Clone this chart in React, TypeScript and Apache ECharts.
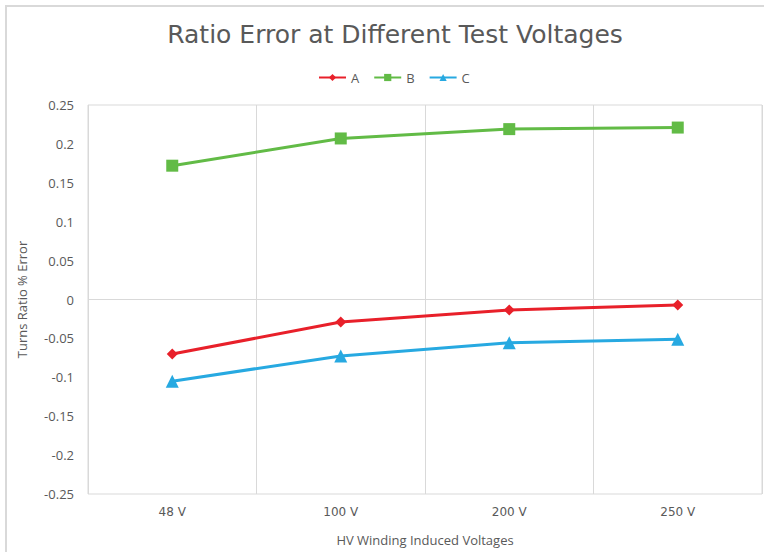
import React, { useEffect, useRef } from "react";
import * as echarts from "echarts";

const categories = ["48 V", "100 V", "200 V", "250 V"];
const seriesA = [-0.07, -0.029, -0.0135, -0.007];
const seriesB = [0.172, 0.207, 0.219, 0.221];
const seriesC = [-0.105, -0.0725, -0.0555, -0.051];
const yTicks = { min: -0.25, max: 0.25, interval: 0.05 };

const FONT = "'Open Sans', 'Noto Sans', sans-serif";
const WIDE = "'DejaVu Sans', 'Open Sans', sans-serif";
const TEXT = "#595959";
const GRID = "#d9d9d9";

export default function App() {
  const ref = useRef<HTMLDivElement>(null);
  useEffect(() => {
    if (!ref.current) return;
    const chart = echarts.init(ref.current, null, { renderer: "svg" });
    const lineSeries = (name: string, data: number[], color: string, symbol: string, size: number, extra: any = {}) => ({
      name,
      type: "line",
      data,
      symbol,
      symbolSize: size,
      showSymbol: true,
      lineStyle: { color, width: 3 },
      itemStyle: { color },
      z: 3,
      ...extra,
    });
    chart.setOption({
      animation: false,
      backgroundColor: "#ffffff",
      textStyle: { fontFamily: FONT },
      title: {
        text: "Ratio Error at Different Test Voltages",
        left: 390,
        textAlign: "center",
        top: 17,
        textStyle: { fontFamily: WIDE, fontSize: 25, fontWeight: "normal", color: TEXT },
      },
      legend: {
        top: 66,
        left: 313,
        itemWidth: 27,
        itemHeight: 9,
        itemGap: 14,
        textStyle: { fontFamily: FONT, fontSize: 13, color: TEXT },
        data: ["A", "B", "C"],
      },
      graphic: [
        {
          type: "rect",
          shape: { x: 6, y: 6, width: 800, height: 600 },
          style: { fill: "none", stroke: GRID, lineWidth: 2 },
          silent: true,
        },
      ],
      grid: {
        left: 88,
        right: 2,
        top: 105,
        bottom: 58,
        show: true,
        borderColor: GRID,
        borderWidth: 1,
      },
      xAxis: {
        type: "category",
        data: categories,
        boundaryGap: true,
        name: "HV Winding Induced Voltages",
        nameLocation: "middle",
        nameGap: 39,
        nameTextStyle: { fontFamily: FONT, fontSize: 13, color: TEXT },
        axisLine: { show: false },
        axisTick: { show: false },
        axisLabel: { fontFamily: WIDE, fontSize: 12, color: TEXT, margin: 12 },
        splitLine: { show: true, lineStyle: { color: GRID, width: 1 } },
      },
      yAxis: {
        type: "value",
        min: yTicks.min,
        max: yTicks.max,
        interval: yTicks.interval,
        name: "Turns Ratio % Error",
        nameLocation: "middle",
        nameGap: 60,
        nameTextStyle: { fontFamily: FONT, fontSize: 13, color: TEXT },
        axisLine: { show: false },
        axisTick: { show: false },
        axisLabel: {
          fontFamily: FONT,
          fontSize: 13,
          color: TEXT,
          margin: 14,
          formatter: (v: number) => String(Math.round(v * 100) / 100),
        },
        splitLine: { show: false },
      },
      series: [
        lineSeries("A", seriesA, "#e8202a", "diamond", 11, {
          markLine: {
            silent: true,
            symbol: "none",
            label: { show: false },
            lineStyle: { color: GRID, type: "solid", width: 1 },
            data: [{ yAxis: 0 }],
            z: 1,
          },
        }),
        lineSeries("B", seriesB, "#62bb46", "rect", 12),
        lineSeries("C", seriesC, "#27a9e1", "triangle", 13),
      ],
    });
    return () => chart.dispose();
  }, []);
  return (
    <div
      ref={ref}
      style={{ position: "absolute", left: 0, top: 0, width: 764, height: 552 }}
    />
  );
}
